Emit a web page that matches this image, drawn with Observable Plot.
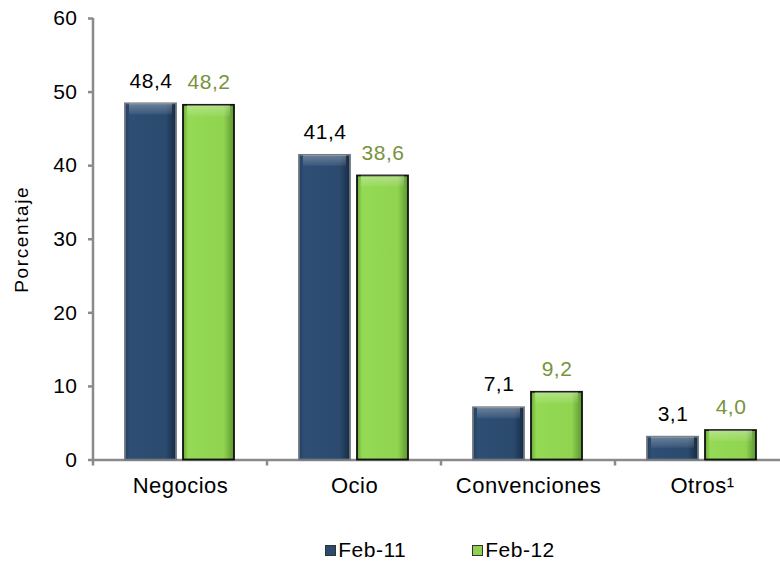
<!DOCTYPE html>
<html><head><meta charset="utf-8">
<script src="https://cdn.jsdelivr.net/npm/d3@7"></script>
<script src="https://cdn.jsdelivr.net/npm/@observablehq/plot@0.6"></script>
<style>
body{margin:0;background:#fff;font-family:"Liberation Sans",Arial,sans-serif;}
#chart svg{display:block;overflow:visible;}
#legend{width:696px;margin-left:92px;height:45px;display:flex;justify-content:center;align-items:flex-start;padding-top:18px;box-sizing:border-box;font-size:21px;letter-spacing:0.5px;color:#000;}
#legend .item{display:flex;align-items:center;}
#legend .item + .item{margin-left:66px;}
#legend .sw{width:9px;height:9px;margin-right:2px;border:1px solid #333;}
</style></head><body>
<div id="chart"></div>
<div id="legend"></div>
<script>
const categories = ["Negocios", "Ocio", "Convenciones", "Otros¹"];
const series = ["Feb-11", "Feb-12"];
const feb11 = [48.4, 41.4, 7.1, 3.1];
const feb12 = [48.2, 38.6, 9.2, 4.0];
const yTicks = [0, 10, 20, 30, 40, 50, 60];
const barFills = ["url(#gBlue)", "url(#gGreen)"];
const barStrokes = ["#6f7782", "#111111"];
const labelColors = ["#000000", "#77933c"];
const swatchColors = ["#2b4a6e", "#8fd14f"];

const values = [feb11, feb12];
const data = categories.flatMap((c, i) => series.map((s, k) => ({category: c, series: s, value: values[k][i]})));
const fmt = v => v.toFixed(1).replace(".", ",");

const marks = [Plot.ruleY([0], {stroke: "#8a8a8a", strokeWidth: 2.5})];
series.forEach((s, k) => {
  const sub = data.filter(d => d.series === s);
  marks.push(Plot.barY(sub, {fx: "category", x: "series", y: "value", fill: barFills[k], stroke: barStrokes[k], strokeWidth: 1.8}));
  marks.push(Plot.barY(sub, {fx: "category", x: "series", y1: "value", y2: "value", insetBottom: -11, insetLeft: 4, insetRight: 4, fill: "url(#gTop)"}));
  marks.push(Plot.text(sub, {fx: "category", x: "series", y: "value", text: d => fmt(d.value), dy: -23, fill: labelColors[k], fontSize: 21}));
});
marks.push(Plot.axisY({ticks: yTicks, tickSize: 5, tickPadding: 11, fontSize: 21, label: "Porcentaje", labelAnchor: "center", labelOffset: 79, labelArrow: "none"}));
marks.push(Plot.axisFx({anchor: "bottom", tickSize: 0, tickPadding: 17, fontSize: 22, label: null}));

const chart = Plot.plot({
  width: 780, height: 520,
  marginLeft: 92, marginRight: -9, marginTop: 18, marginBottom: 60.5,
  style: {fontFamily: "'Liberation Sans', Arial, sans-serif", background: "#fff", color: "#000", letterSpacing: "0.5px", overflow: "visible"},
  fx: {domain: categories, padding: 0, label: null},
  x: {domain: series, paddingInner: 0.12, paddingOuter: 0.56, axis: null},
  y: {domain: [0, 60]},
  marks
});
document.getElementById("chart").append(chart);

const svg = d3.select(chart);
const defs = svg.insert("defs", ":first-child");
function hgrad(id, stops) {
  const g = defs.append("linearGradient").attr("id", id).attr("x1", 0).attr("x2", 1).attr("y1", 0).attr("y2", 0);
  stops.forEach(([o, c]) => g.append("stop").attr("offset", o).attr("stop-color", c));
}
hgrad("gBlue", [[0, "#24405f"], [0.1, "#2e4e74"], [0.8, "#2b4a6e"], [1, "#162a43"]]);
hgrad("gGreen", [[0, "#6aa83a"], [0.1, "#94da54"], [0.8, "#90d450"], [1, "#5c9630"]]);
const gt = defs.append("linearGradient").attr("id", "gTop").attr("x1", 0).attr("x2", 0).attr("y1", 0).attr("y2", 1);
gt.append("stop").attr("offset", 0).attr("stop-color", "#ffffff").attr("stop-opacity", 0.3);
gt.append("stop").attr("offset", 1).attr("stop-color", "#ffffff").attr("stop-opacity", 0.06);

// axis lines drawn through Plot's own scales
const fxS = chart.scale("fx"), yS = chart.scale("y");
const y0 = yS.apply(0), yTop = yS.apply(60);
const gAxis = svg.append("g").attr("stroke", "#8a8a8a").attr("stroke-width", 2.5);
gAxis.append("line").attr("x1", fxS.apply(categories[0])).attr("x2", fxS.apply(categories[0])).attr("y1", yTop).attr("y2", y0);
categories.forEach(c => {
  const x = fxS.apply(c);
  gAxis.append("line").attr("x1", x).attr("x2", x).attr("y1", y0).attr("y2", y0 + 6);
});
svg.selectAll('g[aria-label="y-axis tick"] path').attr("stroke", "#8a8a8a").attr("stroke-width", 2.5);
svg.selectAll('g[aria-label="y-axis label"] text').style("font-size", "19px").style("letter-spacing", "1.6px");

const legend = d3.select("#legend");
series.forEach((s, k) => {
  const it = legend.append("div").attr("class", "item");
  it.append("div").attr("class", "sw").style("background", swatchColors[k]);
  it.append("span").text(s);
});
</script>
</body></html>
